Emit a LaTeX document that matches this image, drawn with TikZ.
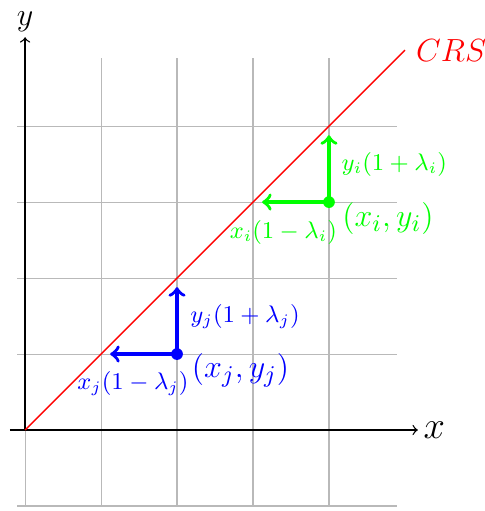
\documentclass[tikz,border=0pt]{standalone}
\usetikzlibrary{arrows}
\tikzset{
  gridline/.style={draw=gray!55, line width=0.4pt},
  axis/.style={draw=black, line width=0.5pt, ->},
  bluearr/.style={draw=blue, line width=1.3pt, ->},
  greenarr/.style={draw=green, line width=1.3pt, ->},
  smalllab/.style={font=\small, inner sep=0pt},
  ptlab/.style={font=\fontsize{13}{15}\selectfont, inner sep=0pt, anchor=west},
}
\begin{document}
\begin{tikzpicture}
\useasboundingbox (-0.33,-1.066) rectangle (6.05,5.66);
\draw[gridline] (-0.1,-1) grid (4.9,4.9);
\coordinate (xs) at (-0.2,0);
\coordinate (xe) at (5.17,0);
\coordinate (o) at (0,0);
\coordinate (ye) at (0,5.17);
\draw[axis] (xs) -- (xe);
\draw[axis] (o) -- (ye);
\node[font=\Large, anchor=west, inner sep=2pt] (xl) at (xe) {$x$};
\node[font=\large, anchor=south, inner sep=2pt] (yl) at (ye) {$y$};
\coordinate (crsend) at (5,5);
\draw[red, line width=0.5pt] (o) -- (crsend);
\node[red, font=\large, anchor=west, inner sep=4pt] (crs) at (crsend) {$CRS$};
% blue point j
\coordinate (pj) at (2,1);
\coordinate (pjl) at (1.12,1);
\coordinate (pju) at (2,1.88);
\draw[bluearr] (pj) -- (pjl);
\draw[bluearr] (pj) -- (pju);
\fill[blue] (pj) circle (2.2pt);
\node[ptlab, blue] (lj) at (2.19,0.79) {$(x_j,y_j)$};
\node[smalllab, blue, anchor=west] (lyj) at (2.17,1.49) {$y_j(1+\lambda_j)$};
\node[smalllab, blue] (lxj) at (1.42,0.61) {$x_j(1-\lambda_j)$};
% green point i
\coordinate (pi) at (4,3);
\coordinate (pil) at (3.12,3);
\coordinate (piu) at (4,3.88);
\draw[greenarr] (pi) -- (pil);
\draw[greenarr] (pi) -- (piu);
\fill[green] (pi) circle (2.2pt);
\node[ptlab, green] (li) at (4.17,2.78) {$(x_i,y_i)$};
\node[smalllab, green, anchor=west] (lyi) at (4.16,3.49) {$y_i(1+\lambda_i)$};
\node[smalllab, green] (lxi) at (3.4,2.6) {$x_i(1-\lambda_i)$};
\end{tikzpicture}
\end{document}
